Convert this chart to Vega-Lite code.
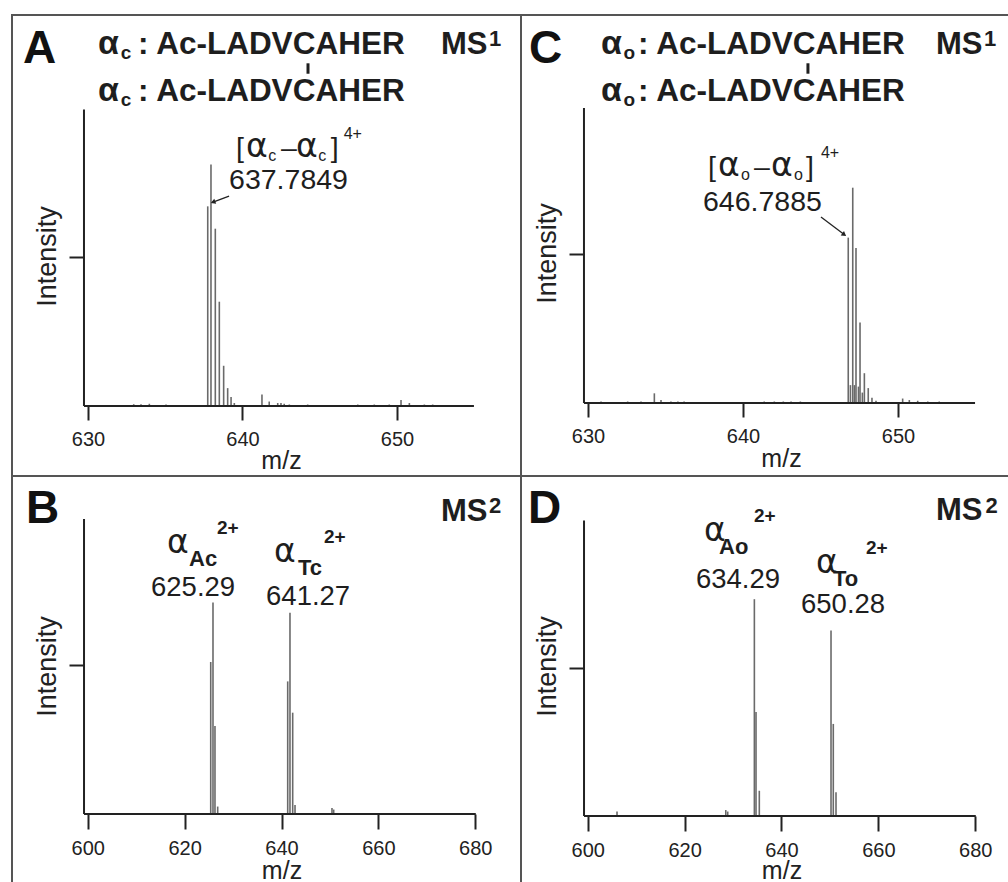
{
  "$schema": "https://vega.github.io/schema/vega-lite/v6.json",
  "padding": {"left": 11, "top": 14, "right": 0, "bottom": 0},
  "background": "white",
  "spacing": 0,
  "bounds": "flush",
  "columns": 2,
  "config": {
    "view": {"stroke": "#555", "strokeWidth": 2},
    "concat": {"spacing": 0},
    "text": {"font": "Liberation Sans", "color": "#1e1e1e", "align": "left", "baseline": "alphabetic"},
    "axis": {"domain": false, "grid": false, "tickColor": "#222", "tickWidth": 2, "labelFont": "Liberation Sans", "labelFontSize": 20, "labelColor": "#222", "titleFont": "Liberation Sans", "titleFontWeight": "normal", "titleColor": "#222", "labelOverlap": false, "labelFlush": false}
  },
  "datasets": {
    "A": [
      {"role": "peak", "mz": 637.75, "intensity": 1.34},
      {"role": "peak", "mz": 637.96, "intensity": 1.62},
      {"role": "peak", "mz": 638.24, "intensity": 1.19},
      {"role": "peak", "mz": 638.50, "intensity": 0.70},
      {"role": "peak", "mz": 638.78, "intensity": 0.27},
      {"role": "peak", "mz": 639.04, "intensity": 0.12},
      {"role": "peak", "mz": 639.26, "intensity": 0.06},
      {"role": "peak", "mz": 639.47, "intensity": 0.02},
      {"role": "peak", "mz": 632.96, "intensity": 0.012},
      {"role": "peak", "mz": 633.43, "intensity": 0.012},
      {"role": "peak", "mz": 633.97, "intensity": 0.015},
      {"role": "peak", "mz": 635.05, "intensity": 0.01},
      {"role": "peak", "mz": 641.26, "intensity": 0.078},
      {"role": "peak", "mz": 641.73, "intensity": 0.03},
      {"role": "peak", "mz": 642.28, "intensity": 0.02},
      {"role": "peak", "mz": 642.49, "intensity": 0.02},
      {"role": "peak", "mz": 642.70, "intensity": 0.015},
      {"role": "peak", "mz": 643.03, "intensity": 0.01},
      {"role": "peak", "mz": 644.22, "intensity": 0.01},
      {"role": "peak", "mz": 647.46, "intensity": 0.01},
      {"role": "peak", "mz": 648.53, "intensity": 0.01},
      {"role": "peak", "mz": 649.50, "intensity": 0.01},
      {"role": "peak", "mz": 650.26, "intensity": 0.04},
      {"role": "peak", "mz": 650.80, "intensity": 0.02},
      {"role": "peak", "mz": 651.77, "intensity": 0.01},
      {"role": "peak", "mz": 652.31, "intensity": 0.01},
      {"role": "line", "mz": 629.74, "mz2": 654.98, "intensity": 0, "intensity2": 0},
      {"role": "line", "mz": 629.74, "mz2": 629.74, "intensity": 0, "intensity2": 1.99},
      {"role": "conn", "mz": 644.24, "mz2": 644.24, "intensity": 2.30, "intensity2": 2.23},
      {"role": "arrow", "mz": 639.13, "mz2": 638.05, "intensity": 1.409, "intensity2": 1.366},
      {"role": "tip", "mz": 638.14, "intensity": 1.370},
      {"role": "letter", "mz": 625.79, "intensity": 2.302, "label": "A"},
      {"role": "headalpha", "mz": 630.65, "intensity": 2.362, "label": "α"},
      {"role": "headalpha", "mz": 630.65, "intensity": 2.047, "label": "α"},
      {"role": "headsub", "mz": 632.12, "intensity": 2.329, "label": "c"},
      {"role": "headsub", "mz": 632.12, "intensity": 2.013, "label": "c"},
      {"role": "head", "mz": 633.24, "intensity": 2.362, "label": ": Ac-LADVCAHER"},
      {"role": "head", "mz": 633.24, "intensity": 2.047, "label": ": Ac-LADVCAHER"},
      {"role": "ms", "mz": 652.85, "intensity": 2.362, "label": "MS"},
      {"role": "mssup", "mz": 655.95, "intensity": 2.416, "label": "1"},
      {"role": "lab", "mz": 639.58, "intensity": 1.671, "label": "["},
      {"role": "lab", "mz": 642.49, "intensity": 1.671, "label": "–"},
      {"role": "lab", "mz": 645.72, "intensity": 1.671, "label": "]"},
      {"role": "lab", "mz": 639.13, "intensity": 1.456, "label": "637.7849"},
      {"role": "labalpha", "mz": 640.23, "intensity": 1.671, "label": "α"},
      {"role": "labalpha", "mz": 643.46, "intensity": 1.671, "label": "α"},
      {"role": "labsub", "mz": 641.66, "intensity": 1.644, "label": "c"},
      {"role": "labsub", "mz": 644.90, "intensity": 1.644, "label": "c"},
      {"role": "labsup", "mz": 646.55, "intensity": 1.792, "label": "4+"}
    ],
    "C": [
      {"role": "peak", "mz": 646.79, "intensity": 1.11},
      {"role": "peak", "mz": 647.08, "intensity": 1.445},
      {"role": "peak", "mz": 647.29, "intensity": 1.04},
      {"role": "peak", "mz": 647.55, "intensity": 0.54},
      {"role": "peak", "mz": 647.83, "intensity": 0.20},
      {"role": "peak", "mz": 648.08, "intensity": 0.10},
      {"role": "peak", "mz": 648.32, "intensity": 0.035},
      {"role": "peak", "mz": 648.58, "intensity": 0.015},
      {"role": "peak", "mz": 646.93, "intensity": 0.12},
      {"role": "peak", "mz": 647.19, "intensity": 0.12},
      {"role": "peak", "mz": 647.45, "intensity": 0.11},
      {"role": "peak", "mz": 647.70, "intensity": 0.07},
      {"role": "peak", "mz": 630.84, "intensity": 0.01},
      {"role": "peak", "mz": 632.56, "intensity": 0.01},
      {"role": "peak", "mz": 633.42, "intensity": 0.01},
      {"role": "peak", "mz": 634.28, "intensity": 0.065},
      {"role": "peak", "mz": 634.71, "intensity": 0.02},
      {"role": "peak", "mz": 635.35, "intensity": 0.01},
      {"role": "peak", "mz": 635.80, "intensity": 0.01},
      {"role": "peak", "mz": 636.20, "intensity": 0.01},
      {"role": "peak", "mz": 641.37, "intensity": 0.01},
      {"role": "peak", "mz": 642.02, "intensity": 0.01},
      {"role": "peak", "mz": 642.60, "intensity": 0.01},
      {"role": "peak", "mz": 643.10, "intensity": 0.01},
      {"role": "peak", "mz": 643.70, "intensity": 0.01},
      {"role": "peak", "mz": 650.30, "intensity": 0.03},
      {"role": "peak", "mz": 650.73, "intensity": 0.02},
      {"role": "peak", "mz": 651.27, "intensity": 0.015},
      {"role": "peak", "mz": 651.92, "intensity": 0.01},
      {"role": "peak", "mz": 652.66, "intensity": 0.01},
      {"role": "line", "mz": 629.74, "mz2": 654.97, "intensity": 0, "intensity2": 0},
      {"role": "line", "mz": 629.74, "mz2": 629.74, "intensity": 0, "intensity2": 1.98},
      {"role": "conn", "mz": 644.19, "mz2": 644.19, "intensity": 2.28, "intensity2": 2.21},
      {"role": "arrow", "mz": 645.03, "mz2": 646.55, "intensity": 1.248, "intensity2": 1.129},
      {"role": "tip", "mz": 646.49, "intensity": 1.133},
      {"role": "letter", "mz": 626.19, "intensity": 2.282, "label": "C"},
      {"role": "headalpha", "mz": 630.84, "intensity": 2.342, "label": "α"},
      {"role": "headalpha", "mz": 630.84, "intensity": 2.027, "label": "α"},
      {"role": "headsub", "mz": 632.29, "intensity": 2.309, "label": "o"},
      {"role": "headsub", "mz": 632.29, "intensity": 1.993, "label": "o"},
      {"role": "head", "mz": 633.23, "intensity": 2.342, "label": ": Ac-LADVCAHER"},
      {"role": "head", "mz": 633.23, "intensity": 2.027, "label": ": Ac-LADVCAHER"},
      {"role": "ms", "mz": 652.45, "intensity": 2.342, "label": "MS"},
      {"role": "mssup", "mz": 655.55, "intensity": 2.396, "label": "1"},
      {"role": "lab", "mz": 637.74, "intensity": 1.523, "label": "["},
      {"role": "lab", "mz": 640.71, "intensity": 1.523, "label": "–"},
      {"role": "lab", "mz": 644.06, "intensity": 1.523, "label": "]"},
      {"role": "lab", "mz": 637.42, "intensity": 1.289, "label": "646.7885"},
      {"role": "labalpha", "mz": 638.39, "intensity": 1.523, "label": "α"},
      {"role": "labalpha", "mz": 641.81, "intensity": 1.523, "label": "α"},
      {"role": "labsub", "mz": 639.87, "intensity": 1.497, "label": "o"},
      {"role": "labsub", "mz": 643.29, "intensity": 1.497, "label": "o"},
      {"role": "labsup", "mz": 645.03, "intensity": 1.644, "label": "4+"}
    ],
    "B": [
      {"role": "peak", "mz": 625.39, "intensity": 1.02},
      {"role": "peak", "mz": 625.86, "intensity": 1.42},
      {"role": "peak", "mz": 626.27, "intensity": 0.59},
      {"role": "peak", "mz": 626.83, "intensity": 0.05},
      {"role": "peak", "mz": 641.28, "intensity": 0.89},
      {"role": "peak", "mz": 641.75, "intensity": 1.35},
      {"role": "peak", "mz": 642.31, "intensity": 0.68},
      {"role": "peak", "mz": 642.79, "intensity": 0.06},
      {"role": "peak", "mz": 650.42, "intensity": 0.04},
      {"role": "peak", "mz": 650.77, "intensity": 0.03},
      {"role": "line", "mz": 599.24, "mz2": 680.1, "intensity": 0, "intensity2": 0},
      {"role": "line", "mz": 599.24, "mz2": 599.24, "intensity": 0, "intensity2": 1.98},
      {"role": "letter", "mz": 587.27, "intensity": 1.953, "label": "B"},
      {"role": "ms", "mz": 672.92, "intensity": 1.966, "label": "MS"},
      {"role": "mssup", "mz": 682.83, "intensity": 2.020, "label": "2"},
      {"role": "fragalpha", "mz": 616.37, "intensity": 1.752, "label": "α"},
      {"role": "fragalpha", "mz": 638.45, "intensity": 1.691, "label": "α"},
      {"role": "fragsub", "mz": 620.91, "intensity": 1.664, "label": "Ac"},
      {"role": "fragsub", "mz": 643.41, "intensity": 1.604, "label": "Tc"},
      {"role": "fragsup", "mz": 626.69, "intensity": 1.879, "label": "2+"},
      {"role": "fragsup", "mz": 648.77, "intensity": 1.819, "label": "2+"},
      {"role": "num", "mz": 613.07, "intensity": 1.463, "label": "625.29"},
      {"role": "num", "mz": 636.81, "intensity": 1.403, "label": "641.27"}
    ],
    "D": [
      {"role": "peak", "mz": 634.40, "intensity": 1.46},
      {"role": "peak", "mz": 634.74, "intensity": 0.70},
      {"role": "peak", "mz": 635.42, "intensity": 0.17},
      {"role": "peak", "mz": 650.22, "intensity": 1.25},
      {"role": "peak", "mz": 650.69, "intensity": 0.62},
      {"role": "peak", "mz": 651.25, "intensity": 0.16},
      {"role": "peak", "mz": 606.05, "intensity": 0.03},
      {"role": "peak", "mz": 628.50, "intensity": 0.04},
      {"role": "peak", "mz": 628.90, "intensity": 0.03},
      {"role": "line", "mz": 599.24, "mz2": 680.1, "intensity": 0, "intensity2": 0},
      {"role": "line", "mz": 599.24, "mz2": 599.24, "intensity": 0, "intensity2": 1.99},
      {"role": "letter", "mz": 587.68, "intensity": 1.973, "label": "D"},
      {"role": "ms", "mz": 671.89, "intensity": 1.993, "label": "MS"},
      {"role": "mssup", "mz": 682.10, "intensity": 2.040, "label": "2"},
      {"role": "fragalpha", "mz": 624.00, "intensity": 1.852, "label": "α"},
      {"role": "fragalpha", "mz": 647.12, "intensity": 1.636, "label": "α"},
      {"role": "fragsub", "mz": 627.10, "intensity": 1.764, "label": "Ao"},
      {"role": "fragsub", "mz": 650.63, "intensity": 1.549, "label": "To"},
      {"role": "fragsup", "mz": 634.33, "intensity": 1.980, "label": "2+"},
      {"role": "fragsup", "mz": 657.44, "intensity": 1.764, "label": "2+"},
      {"role": "num", "mz": 622.35, "intensity": 1.535, "label": "634.29"},
      {"role": "num", "mz": 644.03, "intensity": 1.367, "label": "650.28"}
    ]
  },
  "concat": [
    {
      "width": 509, "height": 461,
      "data": {"name": "A"},
      "encoding": {
        "x": {"field": "mz", "type": "quantitative", "scale": {"domain": [625.081, 658.026], "nice": false, "zero": false},
              "axis": {"values": [630, 640, 650], "offset": -70, "tickSize": 14, "labelPadding": 9, "title": "m/z", "titleFontSize": 25, "titleX": 269, "titleY": 62, "titleAlign": "center", "titleBaseline": "alphabetic"}},
        "y": {"field": "intensity", "type": "quantitative", "scale": {"domain": [-0.4698, 2.6242], "nice": false, "zero": false},
              "axis": {"values": [1], "labels": false, "offset": -72, "tickSize": 15, "title": "Intensity", "titleFontSize": 27, "titleAngle": 270, "titleX": -29, "titleY": 241, "titleAlign": "center", "titleBaseline": "alphabetic"}}
      },
      "layer": [
        {"transform": [{"filter": "datum.role == 'peak'"}], "mark": {"type": "rule", "color": "#6a6a6a", "strokeWidth": 1.6}, "encoding": {"y2": {"datum": 0}}},
        {"transform": [{"filter": "datum.role == 'line'"}], "mark": {"type": "rule", "color": "#222", "strokeWidth": 2}, "encoding": {"x2": {"field": "mz2"}, "y2": {"field": "intensity2"}}},
        {"transform": [{"filter": "datum.role == 'conn'"}], "mark": {"type": "rule", "color": "#1e1e1e", "strokeWidth": 3}, "encoding": {"x2": {"field": "mz2"}, "y2": {"field": "intensity2"}}},
        {"transform": [{"filter": "datum.role == 'arrow'"}], "mark": {"type": "rule", "color": "#222", "strokeWidth": 1.3}, "encoding": {"x2": {"field": "mz2"}, "y2": {"field": "intensity2"}}},
        {"transform": [{"filter": "datum.role == 'tip'"}], "mark": {"type": "point", "shape": "triangle", "filled": true, "color": "#222", "size": 30, "angle": 249, "opacity": 1}},
        {"transform": [{"filter": "datum.role == 'letter'"}], "mark": {"type": "text", "fontSize": 46, "fontWeight": "bold", "color": "#111"}, "encoding": {"text": {"field": "label"}}},
        {"transform": [{"filter": "datum.role == 'headalpha'"}], "mark": {"type": "text", "fontSize": 34, "fontWeight": "bold"}, "encoding": {"text": {"field": "label"}}},
        {"transform": [{"filter": "datum.role == 'headsub'"}], "mark": {"type": "text", "fontSize": 19, "fontWeight": "bold"}, "encoding": {"text": {"field": "label"}}},
        {"transform": [{"filter": "datum.role == 'head'"}], "mark": {"type": "text", "fontSize": 31.5, "fontWeight": "bold"}, "encoding": {"text": {"field": "label"}}},
        {"transform": [{"filter": "datum.role == 'ms'"}], "mark": {"type": "text", "fontSize": 31, "fontWeight": "bold"}, "encoding": {"text": {"field": "label"}}},
        {"transform": [{"filter": "datum.role == 'mssup'"}], "mark": {"type": "text", "fontSize": 22, "fontWeight": "bold"}, "encoding": {"text": {"field": "label"}}},
        {"transform": [{"filter": "datum.role == 'lab'"}], "mark": {"type": "text", "fontSize": 28.5}, "encoding": {"text": {"field": "label"}}},
        {"transform": [{"filter": "datum.role == 'labalpha'"}], "mark": {"type": "text", "fontSize": 33, "font": "DejaVu Sans"}, "encoding": {"text": {"field": "label"}}},
        {"transform": [{"filter": "datum.role == 'labsub'"}], "mark": {"type": "text", "fontSize": 16}, "encoding": {"text": {"field": "label"}}},
        {"transform": [{"filter": "datum.role == 'labsup'"}], "mark": {"type": "text", "fontSize": 16}, "encoding": {"text": {"field": "label"}}}
      ]
    },
    {
      "width": 488, "height": 461,
      "data": {"name": "C"},
      "encoding": {
        "x": {"field": "mz", "type": "quantitative", "scale": {"domain": [625.677, 657.161], "nice": false, "zero": false},
              "axis": {"values": [630, 640, 650], "offset": -73, "tickSize": 14, "labelPadding": 9, "title": "m/z", "titleFontSize": 25, "titleX": 260, "titleY": 63, "titleAlign": "center", "titleBaseline": "alphabetic"}},
        "y": {"field": "intensity", "type": "quantitative", "scale": {"domain": [-0.4899, 2.604], "nice": false, "zero": false},
              "axis": {"values": [1], "labels": false, "offset": -63, "tickSize": 15, "title": "Intensity", "titleFontSize": 27, "titleAngle": 270, "titleX": -29, "titleY": 238, "titleAlign": "center", "titleBaseline": "alphabetic"}}
      },
      "layer": [
        {"transform": [{"filter": "datum.role == 'peak'"}], "mark": {"type": "rule", "color": "#6a6a6a", "strokeWidth": 1.6}, "encoding": {"y2": {"datum": 0}}},
        {"transform": [{"filter": "datum.role == 'line'"}], "mark": {"type": "rule", "color": "#222", "strokeWidth": 2}, "encoding": {"x2": {"field": "mz2"}, "y2": {"field": "intensity2"}}},
        {"transform": [{"filter": "datum.role == 'conn'"}], "mark": {"type": "rule", "color": "#1e1e1e", "strokeWidth": 3}, "encoding": {"x2": {"field": "mz2"}, "y2": {"field": "intensity2"}}},
        {"transform": [{"filter": "datum.role == 'arrow'"}], "mark": {"type": "rule", "color": "#222", "strokeWidth": 1.3}, "encoding": {"x2": {"field": "mz2"}, "y2": {"field": "intensity2"}}},
        {"transform": [{"filter": "datum.role == 'tip'"}], "mark": {"type": "point", "shape": "triangle", "filled": true, "color": "#222", "size": 30, "angle": 127, "opacity": 1}},
        {"transform": [{"filter": "datum.role == 'letter'"}], "mark": {"type": "text", "fontSize": 46, "fontWeight": "bold", "color": "#111"}, "encoding": {"text": {"field": "label"}}},
        {"transform": [{"filter": "datum.role == 'headalpha'"}], "mark": {"type": "text", "fontSize": 34, "fontWeight": "bold"}, "encoding": {"text": {"field": "label"}}},
        {"transform": [{"filter": "datum.role == 'headsub'"}], "mark": {"type": "text", "fontSize": 19, "fontWeight": "bold"}, "encoding": {"text": {"field": "label"}}},
        {"transform": [{"filter": "datum.role == 'head'"}], "mark": {"type": "text", "fontSize": 31.5, "fontWeight": "bold"}, "encoding": {"text": {"field": "label"}}},
        {"transform": [{"filter": "datum.role == 'ms'"}], "mark": {"type": "text", "fontSize": 31, "fontWeight": "bold"}, "encoding": {"text": {"field": "label"}}},
        {"transform": [{"filter": "datum.role == 'mssup'"}], "mark": {"type": "text", "fontSize": 22, "fontWeight": "bold"}, "encoding": {"text": {"field": "label"}}},
        {"transform": [{"filter": "datum.role == 'lab'"}], "mark": {"type": "text", "fontSize": 28.5}, "encoding": {"text": {"field": "label"}}},
        {"transform": [{"filter": "datum.role == 'labalpha'"}], "mark": {"type": "text", "fontSize": 33, "font": "DejaVu Sans"}, "encoding": {"text": {"field": "label"}}},
        {"transform": [{"filter": "datum.role == 'labsub'"}], "mark": {"type": "text", "fontSize": 16}, "encoding": {"text": {"field": "label"}}},
        {"transform": [{"filter": "datum.role == 'labsup'"}], "mark": {"type": "text", "fontSize": 16}, "encoding": {"text": {"field": "label"}}}
      ]
    },
    {
      "width": 509, "height": 407,
      "data": {"name": "B"},
      "encoding": {
        "x": {"field": "mz", "type": "quantitative", "scale": {"domain": [584.376, 689.432], "nice": false, "zero": false},
              "axis": {"values": [600, 620, 640, 660, 680], "offset": -69, "tickSize": 15, "labelPadding": 9, "title": "m/z", "titleFontSize": 25, "titleX": 269.5, "titleY": 64, "titleAlign": "center", "titleBaseline": "alphabetic"}},
        "y": {"field": "intensity", "type": "quantitative", "scale": {"domain": [-0.4631, 2.2685], "nice": false, "zero": false},
              "axis": {"values": [1], "labels": false, "offset": -72, "tickSize": 15, "title": "Intensity", "titleFontSize": 27, "titleAngle": 270, "titleX": -29, "titleY": 190, "titleAlign": "center", "titleBaseline": "alphabetic"}}
      },
      "layer": [
        {"transform": [{"filter": "datum.role == 'peak'"}], "mark": {"type": "rule", "color": "#6a6a6a", "strokeWidth": 1.6}, "encoding": {"y2": {"datum": 0}}},
        {"transform": [{"filter": "datum.role == 'line'"}], "mark": {"type": "rule", "color": "#222", "strokeWidth": 2}, "encoding": {"x2": {"field": "mz2"}, "y2": {"field": "intensity2"}}},
        {"transform": [{"filter": "datum.role == 'letter'"}], "mark": {"type": "text", "fontSize": 46, "fontWeight": "bold", "color": "#111"}, "encoding": {"text": {"field": "label"}}},
        {"transform": [{"filter": "datum.role == 'ms'"}], "mark": {"type": "text", "fontSize": 31, "fontWeight": "bold"}, "encoding": {"text": {"field": "label"}}},
        {"transform": [{"filter": "datum.role == 'mssup'"}], "mark": {"type": "text", "fontSize": 22, "fontWeight": "bold"}, "encoding": {"text": {"field": "label"}}},
        {"transform": [{"filter": "datum.role == 'fragalpha'"}], "mark": {"type": "text", "fontSize": 33, "font": "DejaVu Sans"}, "encoding": {"text": {"field": "label"}}},
        {"transform": [{"filter": "datum.role == 'fragsub'"}], "mark": {"type": "text", "fontSize": 22, "fontWeight": "bold"}, "encoding": {"text": {"field": "label"}}},
        {"transform": [{"filter": "datum.role == 'fragsup'"}], "mark": {"type": "text", "fontSize": 19, "fontWeight": "bold"}, "encoding": {"text": {"field": "label"}}},
        {"transform": [{"filter": "datum.role == 'num'"}], "mark": {"type": "text", "fontSize": 27.5}, "encoding": {"text": {"field": "label"}}}
      ]
    },
    {
      "width": 488, "height": 407,
      "data": {"name": "D"},
      "encoding": {
        "x": {"field": "mz", "type": "quantitative", "scale": {"domain": [586.233, 686.956], "nice": false, "zero": false},
              "axis": {"values": [600, 620, 640, 660, 680], "offset": -67, "tickSize": 15, "labelPadding": 9, "title": "m/z", "titleFontSize": 25, "titleX": 260.5, "titleY": 62, "titleAlign": "center", "titleBaseline": "alphabetic"}},
        "y": {"field": "intensity", "type": "quantitative", "scale": {"domain": [-0.4512, 2.2896], "nice": false, "zero": false},
              "axis": {"values": [1], "labels": false, "offset": -63, "tickSize": 15, "title": "Intensity", "titleFontSize": 27, "titleAngle": 270, "titleX": -29, "titleY": 190, "titleAlign": "center", "titleBaseline": "alphabetic"}}
      },
      "layer": [
        {"transform": [{"filter": "datum.role == 'peak'"}], "mark": {"type": "rule", "color": "#6a6a6a", "strokeWidth": 1.6}, "encoding": {"y2": {"datum": 0}}},
        {"transform": [{"filter": "datum.role == 'line'"}], "mark": {"type": "rule", "color": "#222", "strokeWidth": 2}, "encoding": {"x2": {"field": "mz2"}, "y2": {"field": "intensity2"}}},
        {"transform": [{"filter": "datum.role == 'letter'"}], "mark": {"type": "text", "fontSize": 46, "fontWeight": "bold", "color": "#111"}, "encoding": {"text": {"field": "label"}}},
        {"transform": [{"filter": "datum.role == 'ms'"}], "mark": {"type": "text", "fontSize": 31, "fontWeight": "bold"}, "encoding": {"text": {"field": "label"}}},
        {"transform": [{"filter": "datum.role == 'mssup'"}], "mark": {"type": "text", "fontSize": 22, "fontWeight": "bold"}, "encoding": {"text": {"field": "label"}}},
        {"transform": [{"filter": "datum.role == 'fragalpha'"}], "mark": {"type": "text", "fontSize": 33, "font": "DejaVu Sans"}, "encoding": {"text": {"field": "label"}}},
        {"transform": [{"filter": "datum.role == 'fragsub'"}], "mark": {"type": "text", "fontSize": 22, "fontWeight": "bold"}, "encoding": {"text": {"field": "label"}}},
        {"transform": [{"filter": "datum.role == 'fragsup'"}], "mark": {"type": "text", "fontSize": 19, "fontWeight": "bold"}, "encoding": {"text": {"field": "label"}}},
        {"transform": [{"filter": "datum.role == 'num'"}], "mark": {"type": "text", "fontSize": 27.5}, "encoding": {"text": {"field": "label"}}}
      ]
    }
  ]
}
